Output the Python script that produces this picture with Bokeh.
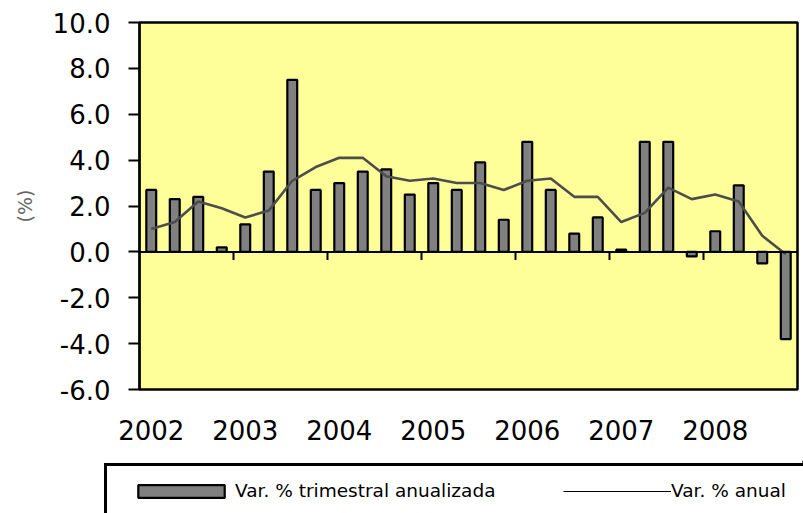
from bokeh.plotting import figure
from bokeh.models import (Range1d, FixedTicker, NumeralTickFormatter, Span,
                          Legend, LegendItem, ColumnDataSource)
from bokeh.embed import file_html
from bokeh.resources import INLINE

# ---- data ----
years = [2002, 2003, 2004, 2005, 2006, 2007, 2008]
quarters_per_year = 4
quarterly_annualized = [2.7, 2.3, 2.4, 0.2,
                        1.2, 3.5, 7.5, 2.7,
                        3.0, 3.5, 3.6, 2.5,
                        3.0, 2.7, 3.9, 1.4,
                        4.8, 2.7, 0.8, 1.5,
                        0.1, 4.8, 4.8, -0.2,
                        0.9, 2.9, -0.5, -3.8]
annual = [1.0, 1.3, 2.2, 1.9,
          1.5, 1.8, 3.1, 3.7,
          4.1, 4.1, 3.3, 3.1,
          3.2, 3.0, 3.0, 2.7,
          3.1, 3.2, 2.4, 2.4,
          1.3, 1.7, 2.8, 2.3,
          2.5, 2.2, 0.7, -0.1]
y_ticks = [-6, -4, -2, 0, 2, 4, 6, 8, 10]
series_names = ["Var. % trimestral anualizada", "Var. % anual"]

n = len(quarterly_annualized)
xq = list(range(n))
src = ColumnDataSource(dict(x=xq, q=quarterly_annualized, a=annual))

FONT = "DejaVu Sans"
BAR_FILL = "#808080"
LINE_COLOR = "#4d4d4d"

W = 803
H_MAIN = 460
H_LEG = 53

p = figure(width=W, height=H_MAIN, output_backend="svg", toolbar_location=None,
           x_range=Range1d(-0.5, n - 0.5), y_range=Range1d(y_ticks[0], y_ticks[-1]),
           min_border_left=139, min_border_right=6, min_border_top=22,
           min_border_bottom=71)
p.background_fill_color = "#FFFF99"
p.border_fill_color = "white"
p.outline_line_color = "black"
p.outline_line_width = 2.5
p.xgrid.visible = False
p.ygrid.visible = False

# y axis
p.yaxis.ticker = FixedTicker(ticks=y_ticks)
p.yaxis.formatter = NumeralTickFormatter(format="0.0")
p.yaxis.major_label_text_font = FONT
p.yaxis.major_label_text_font_size = "26px"
p.yaxis.major_label_text_color = "black"
p.yaxis.major_tick_out = 11
p.yaxis.major_tick_in = 0
p.yaxis.major_tick_line_width = 2
p.yaxis.major_tick_line_color = "black"
p.yaxis.minor_tick_line_color = None
p.yaxis.axis_line_color = "black"
p.yaxis.axis_line_width = 2
p.yaxis.major_label_standoff = 18
p.yaxis.axis_label = "(%)"
p.yaxis.axis_label_text_font = FONT
p.yaxis.axis_label_text_font_size = "19px"
p.yaxis.axis_label_text_font_style = "normal"
p.yaxis.axis_label_text_color = "#666666"
p.yaxis.axis_label_standoff = 14

# x axis: year labels under first quarter of each year
first_q = [i * quarters_per_year for i in range(len(years))]
p.xaxis.ticker = FixedTicker(ticks=first_q)
p.xaxis.major_label_overrides = {t: str(y) for t, y in zip(first_q, years)}
p.xaxis.major_label_text_font = FONT
p.xaxis.major_label_text_font_size = "26px"
p.xaxis.major_label_text_color = "black"
p.xaxis.axis_line_color = None
p.xaxis.major_tick_line_color = None
p.xaxis.minor_tick_line_color = None
p.xaxis.major_tick_out = 0
p.xaxis.major_tick_in = 0
p.xaxis.major_label_standoff = 30

p.vbar(x="x", top="q", bottom=0, width=0.42, source=src,
       fill_color=BAR_FILL, line_color="black", line_width=2.2)
p.line(x="x", y="a", source=src, line_color=LINE_COLOR, line_width=2.6)

# zero line acting as category axis with year-boundary ticks
p.add_layout(Span(location=0, dimension="width", line_color="black", line_width=2))
bounds = [i * quarters_per_year - 0.5 for i in range(1, len(years))]
tick_len = 0.35
p.segment(x0=bounds, y0=[0] * len(bounds), x1=bounds, y1=[-tick_len] * len(bounds),
          line_color="black", line_width=2)

# ---- legend strip (separate figure so the box can run off the page edge) ----
lg = figure(width=W, height=H_LEG, output_backend="svg", toolbar_location=None,
            x_range=Range1d(0, 1), y_range=Range1d(0, 1),
            x_axis_type=None, y_axis_type=None,
            min_border_left=0, min_border_right=0, min_border_top=0, min_border_bottom=0)
lg.outline_line_color = None
lg.xgrid.visible = False
lg.ygrid.visible = False
lg.border_fill_color = "white"
lg.background_fill_color = "white"
# legend proxies: same styling, data kept outside the visible range
proxy = ColumnDataSource(dict(x=[5], y=[5]))
leg_bar = lg.vbar(x="x", top="y", width=0.42, source=proxy, fill_color=BAR_FILL,
                  line_color="black", line_width=2.2)
leg_line = lg.line(x="x", y="y", source=proxy, line_color="black", line_width=1.2)

legend = Legend(items=[LegendItem(label=series_names[0], renderers=[leg_bar]),
                       LegendItem(label=series_names[1], renderers=[leg_line])],
                location=(104, -5), orientation="horizontal",
                padding=11, spacing=66, label_standoff=0, margin=0,
                glyph_width=108, glyph_height=16, label_width=262, label_height=27,
                label_text_font=FONT, label_text_font_size="18.5px",
                label_text_color="black",
                border_line_color="black", border_line_width=3, border_line_alpha=1,
                background_fill_color="white", background_fill_alpha=1,
                title=" ", title_location="left", title_text_font_size="1px",
                title_standoff=8)
lg.add_layout(legend)

open("out.html", "w").write(file_html((p, lg), INLINE))
